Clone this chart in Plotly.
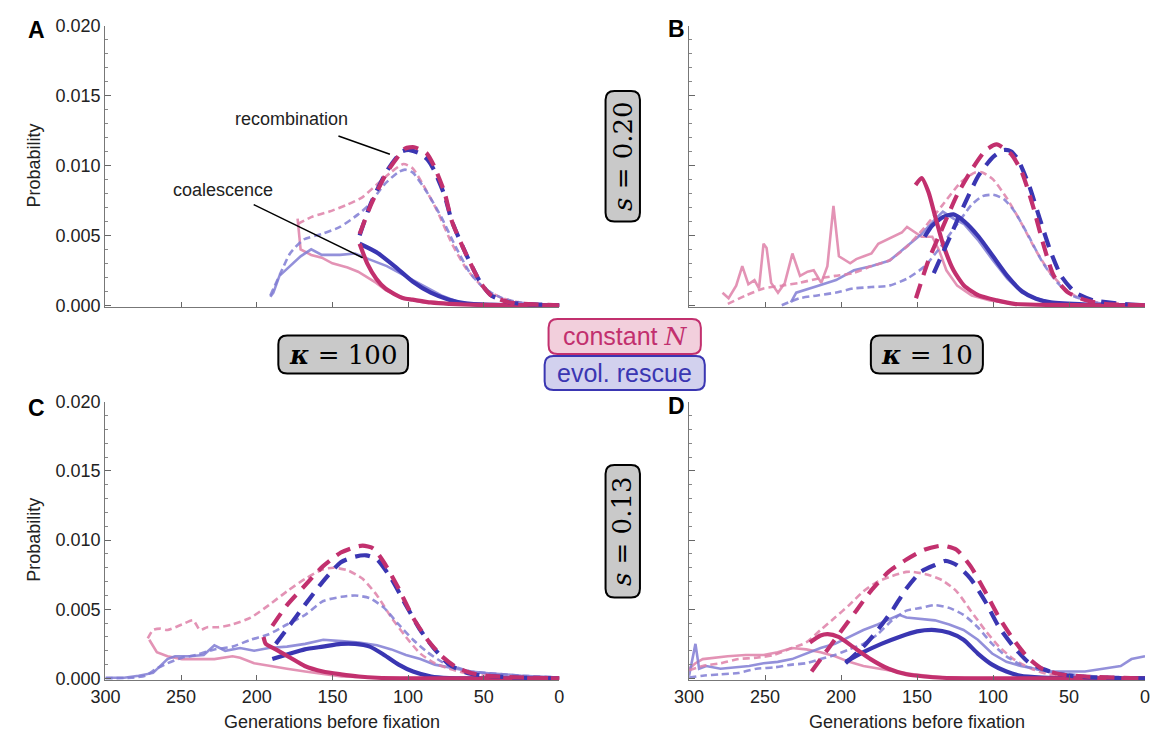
import plotly.graph_objects as go

W, H = 1151, 743

# ---------------- DATA (generations before fixation, probability) ----------------
# Panel A: kappa=100, s=0.20
A_cN_coal_th_g = [132, 127, 121, 115, 109, 103, 97, 85, 73, 50, 0]
A_cN_coal_th_p = [0.0044, 0.0030, 0.0019, 0.0012, 0.0008, 0.0005, 0.0004, 0.0002, 0.0001, 0.00002, 0]
A_er_coal_th_g = [132, 121, 109, 97, 85, 73, 61, 50, 25, 0]
A_er_coal_th_p = [0.0044, 0.0038, 0.0028, 0.0017, 0.0009, 0.0004, 0.00012, 0.00004, 0.00001, 0]
A_cN_coal_sim_g = [173, 171, 164, 157, 150, 140, 133, 127, 121, 115, 110, 102, 90, 73, 50, 0]
A_cN_coal_sim_p = [0.0062, 0.0040, 0.0036, 0.0034, 0.0030, 0.0027, 0.0024, 0.0020, 0.0016, 0.0011, 0.0008, 0.0005, 0.0002, 0.0001, 0.00003, 0]
A_er_coal_sim_g = [191, 189, 185, 178, 171, 164, 157, 145, 135, 126, 114, 102, 90, 78, 66, 50, 25, 0]
A_er_coal_sim_p = [0.0006, 0.0009, 0.0021, 0.0028, 0.0035, 0.0040, 0.0036, 0.0036, 0.0037, 0.0033, 0.0028, 0.0021, 0.0014, 0.0007, 0.0002, 0.0001, 0.00003, 0]
A_cN_rec_th_g = [132, 124.5, 114, 102, 96, 88, 83, 76, 71, 61, 52, 45, 33, 14, 0]
A_cN_rec_th_p = [0.0051, 0.0072, 0.0095, 0.0112, 0.0113, 0.0109, 0.0100, 0.0081, 0.0060, 0.0035, 0.0016, 0.0007, 0.0002, 0.00005, 0]
A_er_rec_th_g = [132, 124.5, 114, 104, 99, 93, 87, 83, 76, 71, 61, 52, 45, 33, 14, 0]
A_er_rec_th_p = [0.0050, 0.0073, 0.0096, 0.0110, 0.0111, 0.0109, 0.0104, 0.0097, 0.0079, 0.0060, 0.0035, 0.0016, 0.0007, 0.0002, 0.00005, 0]
A_cN_rec_sim_g = [173, 164, 152, 140, 130.5, 121, 111.4, 103, 97, 90, 80.5, 71, 61.4, 49.5, 37.6, 21, 0]
A_cN_rec_sim_p = [0.0058, 0.0063, 0.0067, 0.0072, 0.0077, 0.0086, 0.0095, 0.0101, 0.0098, 0.0086, 0.0067, 0.0044, 0.0026, 0.0012, 0.0005, 0.0001, 0]
A_er_rec_sim_g = [191, 183, 178, 169, 157, 145, 133, 125.7, 116, 106.7, 102, 97, 87.6, 78, 68.6, 59, 49.5, 37.6, 21, 0]
A_er_rec_sim_p = [0.0007, 0.0026, 0.0037, 0.0047, 0.0051, 0.0056, 0.0065, 0.0072, 0.0086, 0.0095, 0.0097, 0.0095, 0.0081, 0.0063, 0.0042, 0.0023, 0.0012, 0.0005, 0.0001, 0]

# Panel B: kappa=10, s=0.20
B_cN_coal_th_g = [151, 147, 142.5, 137.7, 133, 126, 119, 109.4, 97.6, 86, 62, 30, 0]
B_cN_coal_th_p = [0.0086, 0.0091, 0.0081, 0.0062, 0.0044, 0.0025, 0.0014, 0.0007, 0.00035, 0.0001, 0.00002, 0, 0]
B_er_coal_th_g = [145, 140, 133, 126, 119, 109.4, 100, 90.6, 81, 71.7, 62, 38.7, 15, 0]
B_er_coal_th_p = [0.0049, 0.0057, 0.0063, 0.0065, 0.0060, 0.0049, 0.0035, 0.0021, 0.0010, 0.00046, 0.0002, 0.00005, 0.00001, 0]
B_cN_coal_sim_g = [278, 274, 269, 265, 261, 257, 254, 251, 249, 246, 241.5, 237, 232, 229, 227, 222, 218, 213, 209, 205, 203, 201.4, 194, 190, 185, 180, 175.5, 166, 160, 156.6, 147, 140, 135.4, 130.7, 123.6, 114, 102, 86, 60, 30, 0]
B_cN_coal_sim_p = [0.0009, 0.0005, 0.0014, 0.0028, 0.0015, 0.0018, 0.0012, 0.0044, 0.0041, 0.0016, 0.0009, 0.0016, 0.0037, 0.0028, 0.0021, 0.0024, 0.0025, 0.0016, 0.0028, 0.0071, 0.0048, 0.0035, 0.0030, 0.0033, 0.0035, 0.0037, 0.0044, 0.0049, 0.0052, 0.0056, 0.0049, 0.0049, 0.0039, 0.0025, 0.0014, 0.0007, 0.00035, 0.0001, 0.00003, 0.00001, 0]
B_er_coal_sim_g = [233, 229.5, 215, 203.3, 191.5, 179.7, 168, 156.6, 147, 137.7, 133, 126, 119, 109.4, 100, 90.6, 81, 71.7, 62, 38.7, 0]
B_er_coal_sim_p = [0.0002, 0.0009, 0.0014, 0.0018, 0.0025, 0.0028, 0.0032, 0.0042, 0.0051, 0.0062, 0.0067, 0.0062, 0.0058, 0.0046, 0.0032, 0.0019, 0.0009, 0.0005, 0.0002, 0.00005, 0]
B_cN_rec_th_g = [150.7, 142.5, 133, 123.6, 114, 104.7, 97.6, 88, 81, 74, 67, 60, 50.5, 38.7, 27, 0]
B_cN_rec_th_p = [0.0005, 0.0032, 0.0056, 0.0079, 0.0097, 0.0111, 0.0115, 0.0108, 0.0095, 0.0072, 0.0044, 0.0021, 0.0009, 0.00035, 0.0001, 0]
B_er_rec_th_g = [139, 128.3, 118.9, 109.4, 100, 93, 88, 83.5, 76.4, 69.3, 62.3, 55.2, 45.8, 34, 15, 0]
B_er_rec_th_p = [0.0023, 0.0049, 0.0072, 0.0093, 0.0106, 0.0111, 0.0110, 0.0104, 0.0086, 0.0062, 0.0039, 0.0021, 0.0009, 0.00035, 0.0001, 0]
B_cN_rec_sim_g = [274.5, 262.7, 251, 239, 227.4, 215.6, 203.8, 192, 180, 168.4, 156.6, 144.8, 133, 121.2, 111.8, 107, 100, 90.6, 81, 71.7, 62.3, 52.8, 43.4, 26.9, 0]
B_cN_rec_sim_p = [0.0001, 0.0007, 0.0012, 0.0014, 0.0016, 0.0019, 0.0021, 0.0023, 0.0028, 0.0032, 0.0042, 0.0056, 0.0072, 0.0088, 0.0095, 0.0095, 0.0090, 0.0076, 0.0058, 0.0039, 0.0023, 0.0012, 0.0005, 0.0001, 0]
B_er_rec_sim_g = [239, 227.4, 215.6, 203.8, 192, 180, 168.4, 156.6, 144.8, 133, 123.6, 114, 107, 100, 93, 85.8, 76.4, 67, 57.5, 48, 38.7, 26.9, 0]
B_er_rec_sim_p = [0, 0.0005, 0.0007, 0.0009, 0.0012, 0.0013, 0.0014, 0.0019, 0.0028, 0.0044, 0.0058, 0.0072, 0.0078, 0.0079, 0.0076, 0.0067, 0.0049, 0.0030, 0.0016, 0.0007, 0.00035, 0.0001, 0]

# Panel C: kappa=100, s=0.13
C_cN_coal_th_g = [195.5, 194, 187.4, 177.8, 168.3, 156.3, 144.4, 132.5, 120.5, 96.7, 60, 0]
C_cN_coal_th_p = [0.0030, 0.0025, 0.0021, 0.0015, 0.0009, 0.0005, 0.0003, 0.00014, 0.00005, 0.00001, 0, 0]
C_er_coal_th_g = [189.7, 177.8, 168.3, 156.3, 144.4, 135, 125.3, 115.8, 106.2, 96.7, 84.7, 72.8, 50, 0]
C_er_coal_th_p = [0.0014, 0.0018, 0.0021, 0.0023, 0.0025, 0.0025, 0.0023, 0.0017, 0.0010, 0.0005, 0.00014, 0.00003, 0, 0]
C_cN_coal_sim_g = [271, 266, 259, 249.4, 240, 228, 216, 211, 201.7, 192, 180, 168, 156, 144, 120, 80, 0]
C_cN_coal_sim_p = [0.0028, 0.0019, 0.0016, 0.0014, 0.0014, 0.0014, 0.0016, 0.0015, 0.0011, 0.0009, 0.0007, 0.0005, 0.0003, 0.00014, 0.00005, 0.00001, 0]
C_er_coal_sim_g = [300, 287.6, 278, 268.5, 259, 254, 244.6, 235, 228, 220.8, 211, 201.7, 192, 180, 168, 156, 144, 132.5, 120.5, 111, 101.4, 91.9, 82.3, 72.8, 58.5, 49, 25, 0]
C_er_coal_sim_p = [0.00005, 0.00005, 0.0002, 0.0004, 0.0014, 0.0016, 0.0016, 0.0017, 0.0024, 0.0020, 0.0022, 0.0020, 0.0022, 0.0023, 0.0025, 0.0028, 0.0027, 0.0026, 0.0024, 0.0021, 0.0017, 0.0014, 0.0010, 0.0008, 0.0005, 0.0004, 0.0002, 0.00007]
C_cN_rec_th_g = [189.7, 180, 168.3, 156.3, 144.4, 135, 130, 123, 116, 106.2, 96.7, 87.2, 77.6, 68, 58.5, 49, 25, 0]
C_cN_rec_th_p = [0.0038, 0.0053, 0.0067, 0.0081, 0.0091, 0.0095, 0.0096, 0.0094, 0.0084, 0.0065, 0.0044, 0.0028, 0.0016, 0.0008, 0.0004, 0.0002, 0.00007, 0]
C_er_rec_th_g = [187.4, 177.8, 168.3, 156.3, 144.4, 135, 127.7, 120.5, 111, 101.4, 91.9, 82.3, 72.8, 60.9, 49, 25, 0]
C_er_rec_th_p = [0.0025, 0.0039, 0.0053, 0.0070, 0.0084, 0.0088, 0.0089, 0.0086, 0.0072, 0.0053, 0.0035, 0.0021, 0.0010, 0.0004, 0.0002, 0.00005, 0]
C_cN_rec_sim_g = [272, 268.5, 263.7, 259, 249.4, 242, 237.5, 232.7, 225.5, 216, 204, 192, 180, 168, 156, 149, 139.6, 130, 120.5, 111, 101.4, 91.9, 82.3, 72.8, 58.5, 37, 0]
C_cN_rec_sim_p = [0.0029, 0.0035, 0.0036, 0.0035, 0.0039, 0.0042, 0.0035, 0.0037, 0.0037, 0.0039, 0.0044, 0.0053, 0.0063, 0.0072, 0.0079, 0.0080, 0.0078, 0.0072, 0.0060, 0.0044, 0.0030, 0.0018, 0.0011, 0.0007, 0.0003, 0.00014, 0.00002]
C_er_rec_sim_g = [300, 283, 273.5, 266.4, 259, 249.4, 240, 228, 216, 204, 192, 180, 168, 156, 144, 135, 125.3, 115.8, 106.2, 96.7, 87.2, 77.6, 68, 58.5, 49, 25, 0]
C_er_rec_sim_p = [0.00002, 0.00005, 0.0002, 0.0007, 0.0011, 0.0015, 0.0017, 0.0021, 0.0023, 0.0028, 0.0032, 0.0039, 0.0046, 0.0056, 0.0059, 0.0060, 0.0058, 0.0051, 0.0039, 0.0028, 0.0019, 0.0012, 0.0008, 0.0005, 0.0004, 0.0002, 0.00007]

# Panel D: kappa=10, s=0.13
D_cN_coal_th_g = [220.5, 213.5, 208.8, 201.7, 192.3, 180.6, 168.8, 157, 145.3, 133.5, 110, 80, 0]
D_cN_coal_th_p = [0.0026, 0.0031, 0.0032, 0.0030, 0.0023, 0.0014, 0.0007, 0.0003, 0.00014, 0.00005, 0.00001, 0, 0]
D_er_coal_th_g = [197, 185.3, 173.5, 161.7, 150, 138.2, 128.8, 119.4, 110, 100.6, 91.2, 81.8, 67.7, 51.2, 0]
D_er_coal_th_p = [0.0012, 0.0019, 0.0025, 0.0030, 0.0034, 0.0035, 0.0033, 0.0028, 0.0018, 0.0010, 0.0005, 0.0002, 0.00007, 0, 0]
D_cN_coal_sim_g = [300, 295.8, 291, 284, 274.6, 262.8, 251, 241.7, 232.3, 222.9, 213.5, 204, 194.7, 185.3, 175.9, 164, 152.3, 133.5, 110, 60, 0]
D_cN_coal_sim_p = [0.0007, 0.0011, 0.0014, 0.0015, 0.0016, 0.0017, 0.0017, 0.0019, 0.0022, 0.0021, 0.0019, 0.0016, 0.0012, 0.0009, 0.0007, 0.0005, 0.0003, 0.00009, 0.00002, 0, 0]
D_er_coal_sim_g = [300, 295.8, 293.4, 288.7, 279.3, 270, 260.5, 251, 241.7, 232.3, 222.9, 213.5, 204, 194.7, 185.3, 175.9, 166.4, 161.7, 157, 147.6, 138.2, 128.8, 119.4, 110, 100.6, 91.2, 81.8, 72.4, 63, 51.2, 39.5, 27.7, 16, 8.9, 0]
D_er_coal_sim_p = [0.0002, 0.0025, 0.0007, 0.0009, 0.0007, 0.0008, 0.0009, 0.0011, 0.0012, 0.0014, 0.0018, 0.0022, 0.0025, 0.0030, 0.0035, 0.0039, 0.0044, 0.0046, 0.0044, 0.0043, 0.0042, 0.0039, 0.0035, 0.0028, 0.0018, 0.0012, 0.0009, 0.0007, 0.0005, 0.0005, 0.0005, 0.0007, 0.0009, 0.0014, 0.0016]
D_cN_rec_th_g = [219.4, 208.8, 199.4, 190, 180.6, 168.8, 157, 145.3, 133.5, 124, 114.7, 105.3, 96, 86.5, 77, 67.7, 56, 39.5, 0]
D_cN_rec_th_p = [0.0005, 0.0021, 0.0035, 0.0049, 0.0063, 0.0077, 0.0086, 0.0093, 0.0096, 0.0093, 0.0081, 0.0063, 0.0044, 0.0028, 0.0015, 0.0007, 0.0003, 0.00014, 0]
D_er_rec_th_g = [197, 185.3, 175.9, 166.4, 157, 147.6, 138.2, 131.2, 124, 114.7, 105.3, 96, 86.5, 77, 67.7, 56, 39.5, 0]
D_er_rec_th_p = [0.0011, 0.0023, 0.0035, 0.0049, 0.0065, 0.0077, 0.0082, 0.0085, 0.0082, 0.0072, 0.0056, 0.0037, 0.0023, 0.0012, 0.0007, 0.0003, 0.0001, 0]
D_cN_rec_sim_g = [300, 291, 279.3, 267.6, 255.8, 244, 232.3, 222.9, 213.5, 204, 194.7, 185.3, 175.9, 166.4, 157, 152.3, 142.9, 133.5, 124, 114.7, 105.3, 96, 86.5, 74.7, 63, 39.5, 0]
D_cN_rec_sim_p = [0.0006, 0.0009, 0.0011, 0.0014, 0.0015, 0.0017, 0.0022, 0.0026, 0.0035, 0.0044, 0.0053, 0.0063, 0.0070, 0.0074, 0.0077, 0.0077, 0.0075, 0.0071, 0.0063, 0.0049, 0.0035, 0.0023, 0.0014, 0.0007, 0.0003, 0.00014, 0.00002]
D_er_rec_sim_g = [300, 291, 279.3, 267.6, 255.8, 244, 232.3, 222.9, 213.5, 204, 194.7, 185.3, 175.9, 166.4, 157, 147.6, 138.2, 128.8, 119.4, 110, 100.6, 91.2, 81.8, 72.4, 63, 39.5, 0]
D_er_rec_sim_p = [0.00007, 0.0002, 0.0003, 0.0004, 0.0007, 0.0008, 0.0010, 0.0011, 0.0014, 0.0017, 0.0021, 0.0025, 0.0032, 0.0042, 0.0049, 0.0051, 0.0053, 0.0051, 0.0046, 0.0037, 0.0025, 0.0016, 0.0010, 0.0007, 0.0005, 0.00019, 0.00005]

x_tick_vals = [300, 250, 200, 150, 100, 50, 0]
y_tick_vals = [0.000, 0.005, 0.010, 0.015, 0.020]

panels = {
    "A": [(A_cN_coal_sim_g, A_cN_coal_sim_p), (A_er_coal_sim_g, A_er_coal_sim_p),
          (A_cN_rec_sim_g, A_cN_rec_sim_p), (A_er_rec_sim_g, A_er_rec_sim_p),
          (A_er_coal_th_g, A_er_coal_th_p), (A_cN_coal_th_g, A_cN_coal_th_p),
          (A_er_rec_th_g, A_er_rec_th_p), (A_cN_rec_th_g, A_cN_rec_th_p)],
    "B": [(B_cN_coal_sim_g, B_cN_coal_sim_p), (B_er_coal_sim_g, B_er_coal_sim_p),
          (B_cN_rec_sim_g, B_cN_rec_sim_p), (B_er_rec_sim_g, B_er_rec_sim_p),
          (B_er_coal_th_g, B_er_coal_th_p), (B_cN_coal_th_g, B_cN_coal_th_p),
          (B_er_rec_th_g, B_er_rec_th_p), (B_cN_rec_th_g, B_cN_rec_th_p)],
    "C": [(C_cN_coal_sim_g, C_cN_coal_sim_p), (C_er_coal_sim_g, C_er_coal_sim_p),
          (C_cN_rec_sim_g, C_cN_rec_sim_p), (C_er_rec_sim_g, C_er_rec_sim_p),
          (C_er_coal_th_g, C_er_coal_th_p), (C_cN_coal_th_g, C_cN_coal_th_p),
          (C_er_rec_th_g, C_er_rec_th_p), (C_cN_rec_th_g, C_cN_rec_th_p)],
    "D": [(D_cN_coal_sim_g, D_cN_coal_sim_p), (D_er_coal_sim_g, D_er_coal_sim_p),
          (D_cN_rec_sim_g, D_cN_rec_sim_p), (D_er_rec_sim_g, D_er_rec_sim_p),
          (D_er_coal_th_g, D_er_coal_th_p), (D_cN_coal_th_g, D_cN_coal_th_p),
          (D_er_rec_th_g, D_er_rec_th_p), (D_cN_rec_th_g, D_cN_rec_th_p)],
}

# ---------------- STYLE ----------------
MAG = "#C2306E"
BLU = "#3A36B2"
MAG_L = "rgba(222,128,168,0.85)"
BLU_L = "rgba(128,124,212,0.85)"
styles = [
    dict(color=MAG_L, width=2.6, dash="solid", shape="linear"),
    dict(color=BLU_L, width=2.6, dash="solid", shape="linear"),
    dict(color=MAG_L, width=2.6, dash="7px,4px", shape="spline"),
    dict(color=BLU_L, width=2.6, dash="7px,4px", shape="spline"),
    dict(color=BLU, width=4.2, dash="solid", shape="spline"),
    dict(color=MAG, width=4.2, dash="solid", shape="spline"),
    dict(color=BLU, width=4.2, dash="15px,9px", shape="spline"),
    dict(color=MAG, width=4.2, dash="15px,9px", shape="spline"),
]


def fx(x):
    return x / W


def fy(y):
    return 1 - y / H


# pixel layout of the four plot areas (x0, x1, y_of_0.020, y_of_0)
geo = {
    "A": (92, 554, 16, 303),
    "B": (686, 1150, 16, 303),
    "C": (92, 554, 402, 686),
    "D": (686, 1150, 402, 686),
}
YLO, YHI = -0.00012, 0.0200

fig = go.Figure()
axis_names = {"A": ("x", "y"), "B": ("x2", "y2"), "C": ("x3", "y3"), "D": ("x4", "y4")}

for key, series in panels.items():
    xa, ya = axis_names[key]
    for (g, p), st in zip(series, styles):
        fig.add_trace(go.Scatter(x=g, y=p, mode="lines", xaxis=xa, yaxis=ya,
                                 line=dict(color=st["color"], width=st["width"], dash=st["dash"],
                                           shape=st["shape"], smoothing=0.6),
                                 showlegend=False, hoverinfo="skip"))

layout = dict(width=W, height=H, paper_bgcolor="white", plot_bgcolor="white",
              margin=dict(l=0, r=0, t=0, b=0), showlegend=False)

TICKFONT = dict(family="Liberation Sans, Arial, sans-serif", size=18, color="#222")
for key in "ABCD":
    x0, x1, ytop, ybot = geo[key]
    ppu = (ybot - ytop) / 0.020
    dom_top = ybot - YHI * ppu
    dom_bot = ybot - YLO * ppu
    xa, ya = axis_names[key]
    xname = "xaxis" + xa[1:]
    yname = "yaxis" + ya[1:]
    bottom = key in "CD"
    left = key in "AC"
    layout[xname] = dict(domain=[fx(x0), fx(x1)], anchor=ya, range=[300, 0],
                         tickvals=x_tick_vals, ticktext=[str(v) for v in x_tick_vals],
                         showticklabels=bottom, ticks="inside", ticklen=5, tickwidth=1,
                         tickcolor="#666", showline=True, linecolor="#777", linewidth=1.2,
                         showgrid=False, zeroline=False, tickfont=TICKFONT)
    layout[yname] = dict(domain=[fy(dom_bot), fy(dom_top)], anchor=xa, range=[YLO, YHI],
                         tickvals=y_tick_vals, ticktext=["%.3f" % v for v in y_tick_vals],
                         showticklabels=left, ticks="inside", ticklen=6, tickwidth=1,
                         tickcolor="#666", showline=True, linecolor="#777", linewidth=1.2,
                         showgrid=False, zeroline=False, tickfont=TICKFONT,
                         minor=dict(dtick=0.001, tick0=0, ticks="inside", ticklen=3,
                                    tickcolor="#888", showgrid=False))
fig.update_layout(**layout)

ann = []
shapes = []
LABFONT = dict(family="Liberation Sans, Arial, sans-serif", size=18, color="#222")

# panel letters
for txt, x, y in [("A", 22, 21), ("B", 673, 19), ("C", 22, 408), ("D", 673, 406)]:
    ann.append(dict(text="<b>%s</b>" % txt, x=fx(x), y=fy(y), xref="paper", yref="paper",
                    showarrow=False, xanchor="center", yanchor="middle",
                    font=dict(family="Liberation Sans, Arial, sans-serif", size=23, color="black")))

# axis titles
for y in (160, 544):
    ann.append(dict(text="Probability", x=fx(19), y=fy(y), xref="paper", yref="paper",
                    showarrow=False, textangle=-90, xanchor="center", yanchor="middle", font=LABFONT))
for x in (323, 918):
    ann.append(dict(text="Generations before fixation", x=fx(x), y=fy(731), xref="paper", yref="paper",
                    showarrow=False, xanchor="center", yanchor="middle", font=LABFONT))

# callouts in panel A
ann.append(dict(text="recombination", x=177, y=0.0133, xref="x", yref="y", showarrow=False,
                xanchor="center", yanchor="middle", font=LABFONT))
ann.append(dict(text="coalescence", x=222, y=0.00826, xref="x", yref="y", showarrow=False,
                xanchor="center", yanchor="middle", font=LABFONT))
shapes.append(dict(type="line", xref="x", yref="y", x0=146, y0=0.0121, x1=112, y1=0.0108,
                   line=dict(color="black", width=1.5)))
shapes.append(dict(type="line", xref="x", yref="y", x0=202, y0=0.0072, x1=130, y1=0.0034,
                   line=dict(color="black", width=1.5)))


def rounded(x0, y0, x1, y1, r, fill, line, lw):
    def P(x, y):
        return "%.5f,%.5f" % (fx(x), fy(y))
    path = ("M " + P(x0 + r, y0) + " L " + P(x1 - r, y0) + " Q " + P(x1, y0) + " " + P(x1, y0 + r) +
            " L " + P(x1, y1 - r) + " Q " + P(x1, y1) + " " + P(x1 - r, y1) +
            " L " + P(x0 + r, y1) + " Q " + P(x0, y1) + " " + P(x0, y1 - r) +
            " L " + P(x0, y0 + r) + " Q " + P(x0, y0) + " " + P(x0 + r, y0) + " Z")
    return dict(type="path", xref="paper", yref="paper", path=path, fillcolor=fill,
                line=dict(color=line, width=lw), layer="above")


SERIF = "DejaVu Serif, Liberation Serif, serif"
for (y0, y1, sval) in [(83, 217, "0.20"), (467, 603, "0.13")]:
    shapes.append(rounded(601, y0, 636, y1, 9, "#C9C9C9", "black", 2))
    ann.append(dict(text="<i>s</i> = " + sval, x=fx(618.5), y=fy((y0 + y1) / 2), xref="paper", yref="paper",
                    showarrow=False, textangle=-90, xanchor="center", yanchor="middle",
                    font=dict(family=SERIF, size=26, color="black")))
for (x0, x1, kval) in [(268, 400, "100"), (871, 985, "10")]:
    shapes.append(rounded(x0, 334, x1, 373, 9, "#C9C9C9", "black", 2))
    ann.append(dict(text="<b><i>κ</i></b> = " + kval, x=fx((x0 + x1) / 2), y=fy(354), xref="paper", yref="paper",
                    showarrow=False, xanchor="center", yanchor="middle",
                    font=dict(family=SERIF, size=26, color="black")))

shapes.append(rounded(543, 317, 698, 353, 9, "#F2CFDC", MAG, 2))
shapes.append(rounded(539, 355, 702, 390, 9, "#D2D1EE", BLU, 2))
ann.append(dict(text="constant <i><span style='font-family:DejaVu Serif'>N</span></i>", x=fx(620.5), y=fy(335),
                xref="paper", yref="paper", showarrow=False, xanchor="center", yanchor="middle",
                font=dict(family="Liberation Sans, Arial, sans-serif", size=25, color=MAG)))
ann.append(dict(text="evol. rescue", x=fx(620.5), y=fy(372.5), xref="paper", yref="paper", showarrow=False,
                xanchor="center", yanchor="middle",
                font=dict(family="Liberation Sans, Arial, sans-serif", size=25, color=BLU)))

fig.update_layout(annotations=ann, shapes=shapes)
fig.write_html("out.html", config={"displayModeBar": False, "staticPlot": True},
               post_script="document.body.style.margin='0px';")
